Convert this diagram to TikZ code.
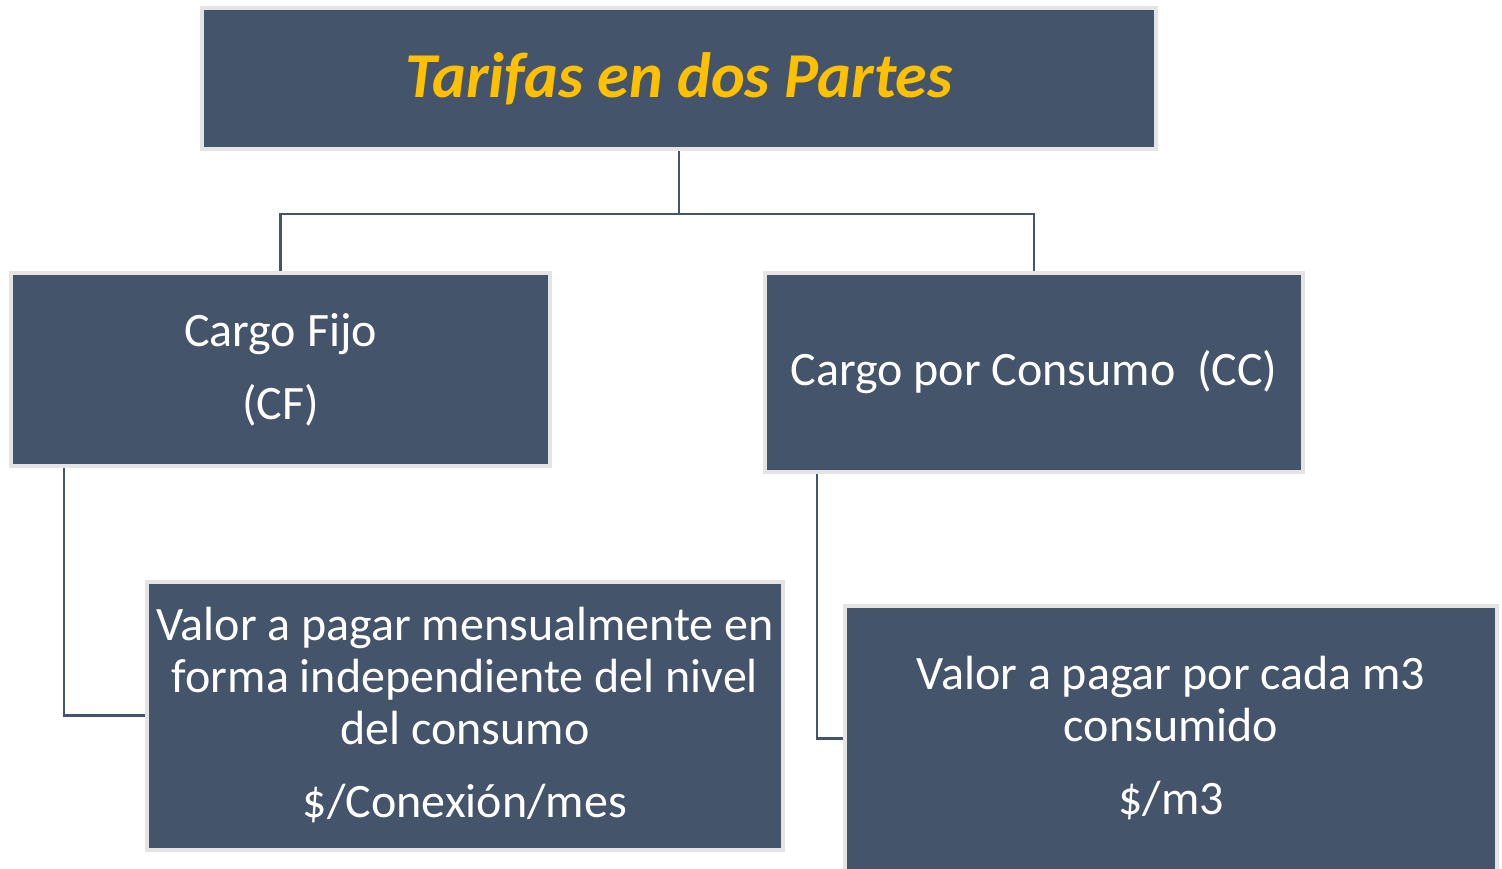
\documentclass[tikz,border=0pt]{standalone}
\usepackage{fontspec}
\setmainfont{Carlito}
\definecolor{boxfill}{HTML}{44546A}
\definecolor{boxedge}{HTML}{E4E4E4}
\definecolor{gold}{HTML}{FFC000}
\begin{document}
\begin{tikzpicture}[x=1pt,y=-1pt,
  box/.style={draw=boxedge,line width=4pt,fill=boxfill,text=white,align=center,inner sep=0pt,
    font=\fontsize{48}{52}\selectfont},
  link/.style={draw=boxfill,line width=2.8pt}]
\clip (0,0) rectangle (1502,869);
\useasboundingbox (0,0) rectangle (1502,869);
\node[box,minimum width=954pt,minimum height=141pt,text=gold,font=\fontsize{64}{70}\selectfont\bfseries\itshape] (title) at (679,78.5) {Tarifas en dos Partes};
\node[box,minimum width=539pt,minimum height=193pt] (cf) at (280.5,369.5) {Cargo Fijo\\[21pt](CF)};
\node[box,minimum width=538pt,minimum height=199pt] (cc) at (1034,372) {Cargo por Consumo\ \ (CC)};
\node[box,minimum width=636pt,minimum height=268pt] (lb) at (465,715.5) {Valor a pagar mensualmente en\\forma independiente del nivel\\del consumo\\[21pt]\$/Conexión/mes};
\node[box,minimum width=652pt,minimum height=266pt] (rb) at (1171,738.5) {Valor a pagar por cada m3\\consumido\\[21pt]\$/m3};
\coordinate (j) at (679,214);
\draw[link] (title.south) -- (j) -| (cf.north);
\draw[link] (j) -| (cc.north);
\draw[link] ([xshift=55pt]cf.south west) |- (lb.west);
\draw[link] ([xshift=54pt]cc.south west) |- (rb.west);
\end{tikzpicture}
\end{document}
